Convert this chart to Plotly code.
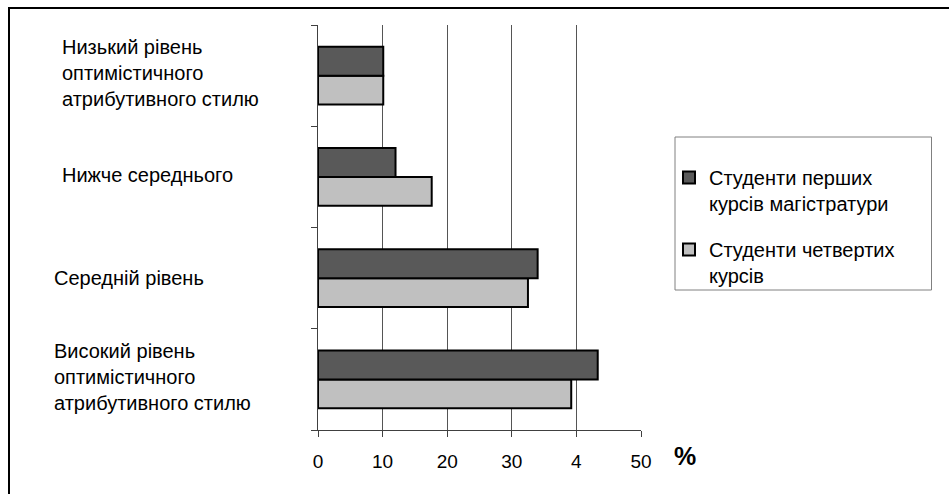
import plotly.graph_objects as go

# ---- data ----
categories = [
    "Високий рівень<br>оптимістичного<br>атрибутивного стилю",
    "Середній рівень",
    "Нижче середнього",
    "Низький рівень<br>оптимістичного<br>атрибутивного стилю",
]
series_names = [
    "Студенти перших<br>курсів магістратури",
    "Студенти четвертих<br>курсів",
]
masters_values = [43.3, 34.0, 12.0, 10.1]
fourth_year_values = [39.2, 32.5, 17.6, 10.1]
tick_values = [0, 10, 20, 30, 40, 50]
tick_labels = ["0", "10", "20", "30", "4", "50"]
axis_unit = "%"

FONT = "Liberation Sans, Arial, sans-serif"

fig = go.Figure()
# light trace first so it sits below the dark one inside each group
fig.add_trace(go.Bar(
    y=categories, x=fourth_year_values, orientation="h",
    name=series_names[1], legendgroup="b", legendrank=2,
    marker=dict(color="#c0c0c0", line=dict(color="black", width=2)),
))
fig.add_trace(go.Bar(
    y=categories, x=masters_values, orientation="h",
    name=series_names[0], legendgroup="a", legendrank=1,
    marker=dict(color="#595959", line=dict(color="black", width=2)),
))

W, H = 949, 494
L, R, T, B = 318, 308, 25, 64
pw, ph = W - L - R, H - T - B


def px(xp):
    return (xp - L) / pw


def py(yp):
    return (H - B - yp) / ph


# category labels (left aligned) as annotations
label_x = [52, 52, 60, 60]
label_shift = [2, 0, 2, 3]
annotations = []
for cat, lx, sh in zip(categories, label_x, label_shift):
    annotations.append(dict(
        x=px(lx), xref="paper", y=cat, yref="y", yshift=sh,
        text=cat, showarrow=False, xanchor="left", yanchor="middle",
        align="left", font=dict(family=FONT, size=20, color="black"),
    ))
annotations.append(dict(
    x=px(685), xref="paper", y=py(456), yref="paper",
    text="<b>" + axis_unit + "</b>", showarrow=False,
    xanchor="center", yanchor="middle",
    font=dict(family=FONT, size=25, color="black"),
))

shapes = [
    # outer frame (only top/left visible)
    dict(type="rect", xref="paper", yref="paper",
         x0=px(9), x1=px(990), y0=py(530), y1=py(8),
         line=dict(color="black", width=2), layer="below"),
    # legend box
    dict(type="rect", xref="paper", yref="paper",
         x0=px(675), x1=px(931.5), y0=py(290), y1=py(137),
         line=dict(color="#808080", width=1)),
]

fig.update_layout(
    width=W, height=H,
    margin=dict(l=L, r=R, t=T, b=B),
    paper_bgcolor="white", plot_bgcolor="white",
    barmode="group", bargap=0.43, bargroupgap=0,
    font=dict(family=FONT, size=19, color="black"),
    showlegend=True,
    legend=dict(
        x=px(669), y=py(158), xanchor="left", yanchor="top",
        traceorder="grouped", tracegroupgap=17,
        bgcolor="rgba(0,0,0,0)", borderwidth=0,
        font=dict(family=FONT, size=20, color="black"),
        valign="top", itemwidth=30,
    ),
    xaxis=dict(
        range=[0, 50], tickvals=tick_values, ticktext=tick_labels,
        showgrid=True, gridcolor="#555555", gridwidth=1,
        zeroline=False, showline=True, linecolor="#404040", linewidth=1,
        ticks="outside", ticklen=6, tickcolor="#404040",
        ticklabelstandoff=8,
        tickfont=dict(family=FONT, size=19, color="black"),
        fixedrange=True,
    ),
    yaxis=dict(
        type="category", categoryorder="array", categoryarray=categories,
        range=[-0.5, 3.5], showticklabels=False,
        showline=True, linecolor="#404040", linewidth=1,
        ticks="outside", ticklen=6, tickcolor="#404040", tickson="boundaries",
        showgrid=False, zeroline=False, fixedrange=True,
    ),
    annotations=annotations,
    shapes=shapes,
)

fig.write_html("out.html")
